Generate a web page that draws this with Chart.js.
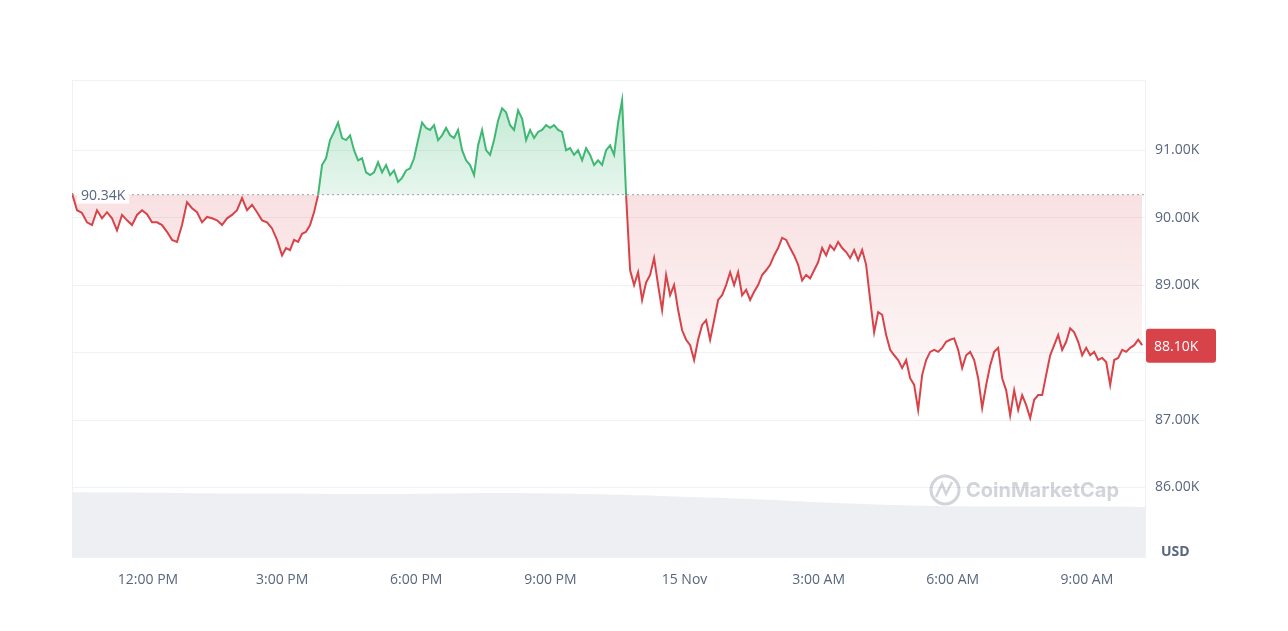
<!DOCTYPE html>
<html><head><meta charset="utf-8">
<script src="https://cdn.jsdelivr.net/npm/chart.js@4"></script>
<style>html,body{margin:0;padding:0;background:#fff}#w{width:1288px;height:631px;position:relative}</style>
</head><body><div id="w"><canvas id="c"></canvas></div>
<script>
// Price in thousands USD, sampled through the 24h window (10:18 AM Nov 14 -> 10:18 AM Nov 15)
const prices = [90.36,90.11,90.07,89.93,89.89,90.11,89.99,90.08,89.99,89.81,90.04,89.96,89.89,90.04,90.11,90.05,
89.93,89.93,89.89,89.79,89.67,89.64,89.89,90.23,90.14,90.08,89.93,90.01,89.99,89.96,89.89,89.99,90.04,90.11,90.29,90.11,90.19,90.08,89.96,89.93,89.84,89.67,
89.44,89.55,89.52,89.67,89.64,89.76,89.79,89.89,90.08,90.33,90.78,90.88,91.15,91.27,91.41,91.18,91.15,91.22,91.00,90.85,90.88,90.67,90.63,90.67,90.82,90.67,90.78,90.63,90.70,90.53,90.59,90.70,90.73,90.88,91.15,91.41,91.33,91.30,91.37,91.15,91.22,91.33,91.22,91.18,91.30,91.00,90.85,90.78,90.63,91.07,91.30,91.00,90.93,91.15,91.44,91.62,91.56,91.37,91.30,91.59,91.47,91.15,91.30,91.18,91.27,91.30,91.37,91.33,91.37,91.30,91.27,91.00,91.03,90.93,91.00,90.85,91.03,90.93,90.78,90.85,90.78,91.00,91.07,90.93,91.41,91.74,
90.33,89.22,89.00,89.19,88.78,89.04,89.15,89.40,89.00,88.63,89.15,88.85,89.00,88.63,88.33,88.19,88.11,87.89,88.19,88.41,88.48,88.19,88.48,88.78,88.85,89.00,89.19,89.00,89.19,88.85,88.93,88.78,88.90,89.00,89.15,89.22,89.30,89.44,89.55,89.70,89.67,89.55,89.44,89.30,89.07,89.15,89.10,89.22,89.34,89.55,89.44,89.59,89.52,89.64,89.55,89.49,89.40,89.52,89.37,89.52,89.30,88.78,88.30,88.60,88.56,88.26,88.04,87.96,87.89,87.77,87.89,87.62,87.52,87.15,87.67,87.89,88.01,88.04,88.01,88.07,88.16,88.19,88.21,88.04,87.77,87.96,88.01,87.89,87.62,87.18,87.52,87.81,88.01,88.07,87.62,87.44,87.07,87.44,87.15,87.37,87.22,87.03,87.30,87.37,87.37,87.67,87.96,88.11,88.26,88.04,88.16,88.36,88.30,88.16,87.96,88.07,87.96,88.01,87.89,87.92,87.86,87.52,87.89,87.92,88.04,88.01,88.07,88.11,88.19,88.11];
const openPrice = 90.34;
const lastPrice = 88.10;
// relative volume profile (arbitrary units), start to end of window
const volume = [13.6,13.5,13.4,13.3,13.3,13.2,13.2,13.3,13.4,13.3,13.1,12.8,12.4,12.0,11.4,11.0,10.7,10.6,10.6,10.6,10.5];
const tickHours = [12,15,18,21,24,27,30,33];
const tickLabels = ['12:00 PM','3:00 PM','6:00 PM','9:00 PM','15 Nov','3:00 AM','6:00 AM','9:00 AM'];
const yTicks = [86,87,88,89,90,91];

const pxH = 1/44.7; // sampling spacing helper (hours per px in the reference)
const times = prices.map((p,i)=> i<42 ? 10.3 + i*5*pxH : 10.3 + (210 + (i-42)*4)*pxH);
const tStart=10.3, tEnd=34.3;
const priceData = prices.map((p,i)=>({x:times[i],y:p}));
const volData = volume.map((v,i)=>({x:tStart+i*(tEnd-tStart)/(volume.length-1),y:v}));

const GREEN='#3fb874', RED='#d8434a';
const grad = {
  id:'grad',
  afterLayout(ch){
    const {ctx,chartArea:a}=ch; const y=ch.scales.y; if(!a) return;
    const yb=y.getPixelForValue(openPrice), yt=y.getPixelForValue(91.75), yl=y.getPixelForValue(87.0);
    const g=ctx.createLinearGradient(0,yt,0,yb); g.addColorStop(0,'rgba(63,184,116,0.32)'); g.addColorStop(1,'rgba(63,184,116,0.12)');
    const r=ctx.createLinearGradient(0,yb,0,yl); r.addColorStop(0,'rgba(216,67,74,0.16)'); r.addColorStop(1,'rgba(216,67,74,0.02)');
    ch.data.datasets[0].fill={target:{value:openPrice},above:g,below:r};
  }
};
const deco = {
  id:'deco',
  afterDatasetsDraw(ch){
    const {ctx,chartArea:a,scales:{y}}=ch;
    const yb=y.getPixelForValue(openPrice);
    ctx.save();
    ctx.setLineDash([2,3]);ctx.strokeStyle='#9aa0ab';ctx.lineWidth=1;
    ctx.beginPath();ctx.moveTo(a.left,yb);ctx.lineTo(a.right,yb);ctx.stroke();ctx.setLineDash([]);
    ctx.font='14px "Open Sans", sans-serif';
    const t=(openPrice).toFixed(2)+'K';
    ctx.fillStyle='rgba(255,255,255,0.9)';ctx.fillRect(a.left+5,yb-9,ctx.measureText(t).width+8,18);
    ctx.fillStyle='#58667e';ctx.textBaseline='middle';ctx.fillText(t,a.left+9,yb+1);
    const yl=y.getPixelForValue(lastPrice);
    ctx.fillStyle=RED;
    ctx.beginPath();ctx.roundRect(a.right+1,yl-17,70,34,3);ctx.fill();
    ctx.fillStyle='#fff';ctx.font='14px "Open Sans", sans-serif';ctx.textAlign='left';
    ctx.fillText(lastPrice.toFixed(2)+'K',a.right+9,yl+1);
    ctx.fillStyle='#58667e';ctx.font='bold 14px "Open Sans", sans-serif';
    ctx.fillText('USD',a.right+16,a.bottom-5);
    ctx.globalAlpha=0.35;
    ctx.strokeStyle='#7d8494';ctx.lineWidth=3;
    ctx.beginPath();ctx.arc(945,490,14,0,Math.PI*2);ctx.stroke();
    ctx.lineWidth=2.5;ctx.beginPath();ctx.moveTo(936,497);ctx.lineTo(942,484);ctx.lineTo(946,494);ctx.lineTo(952,482);ctx.stroke();
    ctx.fillStyle='#7d8494';ctx.font='bold 20px "Inter", sans-serif';
    ctx.fillText('CoinMarketCap',966,491);
    ctx.restore();
  }
};

new Chart(document.getElementById('c'),{
  type:'line',
  data:{datasets:[
    {data:priceData,yAxisID:'y',borderWidth:2,pointRadius:0,tension:0,
     segment:{borderColor:c=>((c.p0.parsed.y+c.p1.parsed.y)/2>=openPrice?GREEN:RED)},
     borderColor:RED,
     fill:{target:{value:openPrice},above:'rgba(63,184,116,0.22)',below:'rgba(216,67,74,0.10)'},order:1},
    {data:volData,yAxisID:'v',borderWidth:0,pointRadius:0,fill:'start',backgroundColor:'#eeeff3',tension:0.3,order:2}
  ]},
  options:{responsive:true,maintainAspectRatio:false,animation:false,
    layout:{padding:{left:72,top:80,right:0,bottom:0}},
    plugins:{legend:{display:false},tooltip:{enabled:false}},
    scales:{
      x:{type:'linear',min:tStart,max:tEnd,
        grid:{display:false},border:{display:false},
        afterBuildTicks:s=>{s.ticks=tickHours.map(v=>({value:v}));},
        afterFit:s=>{s.height=74;},
        ticks:{padding:7,color:'#58667e',font:{size:14,family:'"Open Sans", sans-serif'},autoSkip:false,maxRotation:0,
          callback:v=>tickLabels[tickHours.indexOf(v)]}},
      y:{position:'right',min:84.97,max:92.04,
        grid:{color:'#eff2f5',drawTicks:false},border:{display:true,color:'#eff2f5'},
        afterBuildTicks:s=>{s.ticks=yTicks.map(v=>({value:v}));},
        afterFit:s=>{s.width=143;},
        ticks:{padding:10,color:'#58667e',font:{size:14,family:'"Open Sans", sans-serif'},callback:v=>v.toFixed(2)+'K'}},
      v:{display:false,min:0,max:100}
    }
  },
  plugins:[grad,deco,{id:'frame',beforeDatasetsDraw(ch){const {ctx,chartArea:a}=ch;ctx.save();ctx.strokeStyle='#eff2f5';ctx.lineWidth=1;ctx.strokeRect(a.left+0.5,a.top+0.5,a.width,a.height);ctx.restore();}}]
});
</script></body></html>
